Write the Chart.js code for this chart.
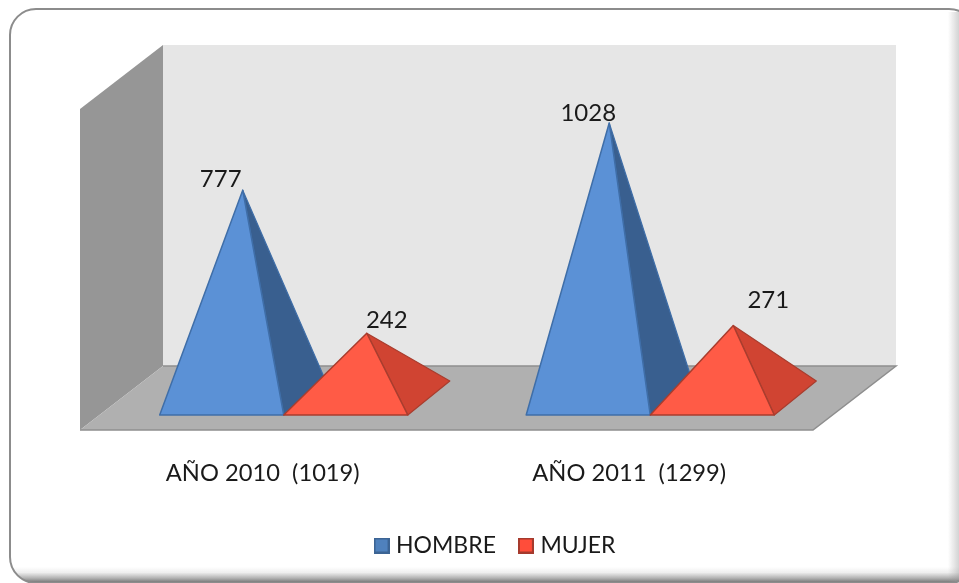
<!DOCTYPE html>
<html><head><meta charset="utf-8">
<style>html,body{margin:0;padding:0;background:#fff}canvas{display:block}</style>
<script src="https://cdn.jsdelivr.net/npm/chart.js@4"></script>
</head><body><div style="width:959px;height:583px;position:relative"><canvas id="c" width="959" height="583"></canvas></div>
<script>
const categories = ['AÑO 2010  (1019)', 'AÑO 2011  (1299)'];
const seriesNames = ['HOMBRE', 'MUJER'];
const hombre = [777, 1028];
const mujer = [242, 271];
const axisMax = 1200;

const FONT = 'Lato, "Open Sans", sans-serif';
const DEPTH_X = 41.5, DEPTH_Y = 32;     // half depth of the 3D box
const PYR_X = 21, PYR_Y = 17;           // half depth of a pyramid
const faces = [
  {front:'#5b91d6', side:'#395f8f', line:'#3f6ea8', key:'#4f81bd', keyLine:'#3c6494'},
  {front:'#ff5b46', side:'#d04432', line:'#a93d2e', key:'#ff4d3a', keyLine:'#a53a2d'}
];
// manual label placement relative to each apex, per series / category
const labelShift = [[[-22,-11],[-21,-10]],[[20,-13],[35,-25]]];

function poly(ctx, pts, fill, stroke, lw){
  ctx.beginPath();
  pts.forEach((p,i)=> i?ctx.lineTo(p[0],p[1]):ctx.moveTo(p[0],p[1]));
  ctx.closePath();
  if(fill){ctx.fillStyle=fill;ctx.fill();}
  if(stroke){ctx.strokeStyle=stroke;ctx.lineWidth=lw||1;ctx.lineJoin='round';ctx.stroke();}
}
function keyBox(f){
  const c=document.createElement('canvas');c.width=16;c.height=16;
  const x=c.getContext('2d');x.fillStyle=f.key;x.fillRect(1,1,14,14);
  x.strokeStyle=f.keyLine;x.lineWidth=2;x.strokeRect(1,1,14,14);return c;
}
function frame(ctx,W,H){
  ctx.save();
  const path=new Path2D();path.roundRect(10,9,965,H-9,26);
  ctx.save();ctx.clip(path);
  let g=ctx.createLinearGradient(0,567,0,H);
  g.addColorStop(0,'rgba(112,112,112,0)');g.addColorStop(.35,'rgba(112,112,112,.12)');
  g.addColorStop(.7,'rgba(112,112,112,.55)');g.addColorStop(1,'rgba(112,112,112,1)');
  ctx.fillStyle=g;ctx.fillRect(0,567,W,H-567);
  g=ctx.createLinearGradient(948,0,W,0);
  g.addColorStop(0,'rgba(150,150,150,0)');g.addColorStop(1,'rgba(150,150,150,.42)');
  ctx.fillStyle=g;ctx.fillRect(948,12,W-948,H-12);
  ctx.restore();
  ctx.strokeStyle='#8c8c8c';ctx.lineWidth=2;ctx.stroke(path);
  ctx.restore();
}
const scene = {
  id:'scene',
  afterLayout(chart){
    const l=chart.legend;
    l.left+=9; l.right+=9; l.top-=16; l.bottom-=16;
  },
  beforeDatasetsDraw(chart){
    const ctx=chart.ctx,a=chart.chartArea,y=chart.scales.y;
    const top=y.getPixelForValue(axisMax),base=y.getPixelForValue(0);
    const L=a.left-DEPTH_X,R=a.right-DEPTH_X,LB=a.left+DEPTH_X,RB=a.right+DEPTH_X;
    const T=top-DEPTH_Y,Bb=base-DEPTH_Y,Tf=top+DEPTH_Y,Bf=base+DEPTH_Y;
    ctx.save();
    frame(ctx,chart.width,chart.height);
    poly(ctx,[[LB,T],[RB,T],[RB,Bb],[LB,Bb]],'#e6e6e6');
    poly(ctx,[[L,Tf],[LB,T],[LB,Bb],[L,Bf]],'#969696');
    poly(ctx,[[L,Bf],[LB,Bb],[RB,Bb],[R,Bf]],'#b0b0b0');
    ctx.strokeStyle='#8e8e8e';ctx.lineWidth=1.5;
    ctx.beginPath();ctx.moveTo(LB,Bb);ctx.lineTo(RB,Bb);ctx.lineTo(R,Bf);ctx.lineTo(L,Bf);ctx.stroke();
    categories.forEach((_,c)=>chart.data.datasets.forEach((d,s)=>{
      const b=chart.getDatasetMeta(s).data[c],f=faces[s],hw=b.width/2;
      const apex=[b.x,b.y];
      const fl=[b.x-hw-PYR_X,b.base+PYR_Y],fr=[b.x+hw-PYR_X,b.base+PYR_Y],br=[b.x+hw+PYR_X,b.base-PYR_Y];
      poly(ctx,[apex,fr,br],f.side,f.line,1.2);
      poly(ctx,[apex,fl,fr],f.front,f.line,1.5);
    }));
    ctx.restore();
  },
  beforeDatasetDraw(){ return false; },
  afterDatasetsDraw(chart){
    const ctx=chart.ctx;ctx.save();
    ctx.font='24px '+FONT;ctx.fillStyle='#1a1a1a';ctx.textAlign='center';ctx.textBaseline='middle';
    chart.data.datasets.forEach((d,s)=>d.data.forEach((v,c)=>{
      const b=chart.getDatasetMeta(s).data[c],o=labelShift[s][c];
      ctx.fillText(String(v),b.x+o[0],b.y+o[1]);
    }));
    ctx.restore();
  }
};
new Chart(document.getElementById('c'),{
  type:'bar',
  data:{labels:categories,datasets:[
    {label:seriesNames[0],data:hombre,backgroundColor:faces[0].front,borderColor:faces[0].line},
    {label:seriesNames[1],data:mujer,backgroundColor:faces[1].front,borderColor:faces[1].line}
  ]},
  options:{
    responsive:false,animation:false,
    layout:{padding:{left:121.5,right:104.5,top:77,bottom:0}},
    datasets:{bar:{barPercentage:1,categoryPercentage:0.677}},
    scales:{
      x:{grid:{display:false},border:{display:false},
        afterFit(s){s.height=125;},
        ticks:{padding:53,labelOffset:-42,maxRotation:0,color:'#1a1a1a',font:{family:FONT,size:23.7}}},
      y:{display:false,min:0,max:axisMax}
    },
    plugins:{
      tooltip:{enabled:false},
      legend:{position:'bottom',labels:{
        usePointStyle:true,pointStyleWidth:6,padding:27,color:'#1a1a1a',font:{family:FONT,size:23},
        generateLabels(chart){return chart.data.datasets.map((d,i)=>({text:d.label,datasetIndex:i,pointStyle:keyBox(faces[i]),fillStyle:faces[i].key,strokeStyle:faces[i].keyLine,fontColor:'#1a1a1a'}));}
      }}
    }
  },
  plugins:[scene]
});
</script></body></html>
